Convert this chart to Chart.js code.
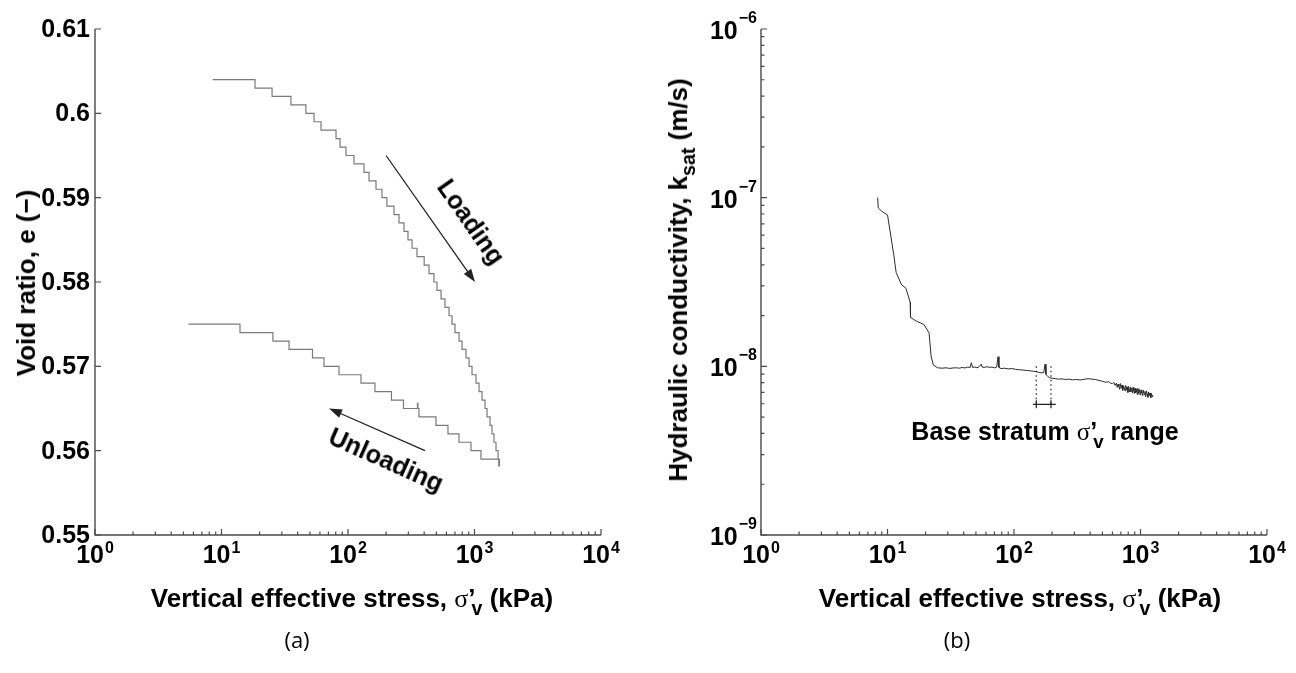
<!DOCTYPE html>
<html>
<head>
<meta charset="utf-8">
<script src="https://cdn.jsdelivr.net/npm/chart.js@4.4.1/dist/chart.umd.min.js"></script>
<style>
  html, body { margin: 0; padding: 0; background: #fff; }
  #wrap { position: relative; width: 1296px; height: 673px; overflow: hidden; }
  canvas { position: absolute; top: 0; }
  .t { position: absolute; font-family: "Liberation Sans", Arial, sans-serif; font-weight: bold; color: #000; white-space: nowrap; line-height: 1; }
  .t sub { font-size: 0.75em; vertical-align: -0.4em; line-height: 0; }
  .sg { font-family: "Liberation Serif", serif; font-weight: normal; }
  .cap { position: absolute; font-family: "Open Sans", sans-serif; font-size: 22px; line-height: 1; transform: translate(-50%, -50%); }
</style>
</head>
<body>
<div id="wrap">
  <canvas id="c1" width="640" height="673" style="left:0"></canvas>
  <canvas id="c2" width="656" height="673" style="left:640px"></canvas>

  <div class="t" style="font-size:26px;left:352px;top:585px;transform:translateX(-50%)">Vertical effective stress, <span class="sg">σ</span>’<sub style="margin-left:-4px">v</sub> (kPa)</div>
  <div class="t" style="font-size:26px;left:1020px;top:585px;transform:translateX(-50%)">Vertical effective stress, <span class="sg">σ</span>’<sub style="margin-left:-4px">v</sub> (kPa)</div>
  <div class="t" style="font-size:26px;left:26px;top:283px;transform:translate(-50%,-50%) rotate(-90deg)">Void ratio, e (−)</div>
  <div class="t" style="font-size:26px;left:678px;top:280px;transform:translate(-50%,-50%) rotate(-90deg)">Hydraulic conductivity, k<sub>sat</sub> (m/s)</div>
  <div class="t" style="font-size:25px;left:471px;top:222px;transform:translate(-50%,-50%) rotate(55deg)">Loading</div>
  <div class="t" style="font-size:25px;left:386px;top:460px;transform:translate(-50%,-50%) rotate(24deg)">Unloading</div>
  <div class="t" style="font-size:25px;left:1045px;top:419px;transform:translateX(-50%)">Base stratum <span class="sg">σ</span>’<sub style="margin-left:-4px">v</sub> range</div>
  <div class="cap" style="left:297px;top:639px">(a)</div>
  <div class="cap" style="left:957px;top:639px">(b)</div>
</div>

<script>
// (a) void ratio vs vertical effective stress
const loadStress = [8.5, 18.4, 25.1, 35.4, 46.5, 53.9, 61.2, 80.4, 86.5, 96.4, 111.5, 133.8, 146.6, 166.5, 185.6,
  203, 231, 253, 277, 298, 321, 351, 400, 437, 478, 505, 544, 584, 629, 664, 701, 755, 797, 857, 906, 956,
  1028, 1086, 1147, 1211, 1256, 1327, 1375, 1426, 1479, 1535, 1555, 1575];
const loadVoid = [0.604, 0.603, 0.602, 0.601, 0.600, 0.599, 0.598, 0.597, 0.596, 0.595, 0.594, 0.593, 0.592, 0.591, 0.590,
  0.589, 0.588, 0.587, 0.586, 0.585, 0.584, 0.583, 0.582, 0.581, 0.580, 0.579, 0.578, 0.577, 0.576, 0.575, 0.574, 0.573, 0.572, 0.571, 0.570, 0.569,
  0.568, 0.567, 0.566, 0.565, 0.564, 0.563, 0.562, 0.561, 0.560, 0.559, 0.5582, 0.559];

const unloadStress = [5.47, 14.0, 25.5, 34.2, 52.4, 64.6, 84.9, 126.7, 163.3, 220.6, 274.5, 354, 357, 364, 496, 617, 754, 938, 1125, 1543];
const unloadVoid = [0.575, 0.574, 0.573, 0.572, 0.571, 0.570, 0.569, 0.568, 0.567, 0.566, 0.565, 0.5656, 0.565, 0.564, 0.563, 0.562, 0.561, 0.560, 0.559, 0.559];

// arrows [stress, void ratio] from -> to
const loadArrow = [[200, 0.595], [1009, 0.580]];
const unloadArrow = [[406, 0.5600], [70.8, 0.5650]];

// (b) hydraulic conductivity vs vertical effective stress
const kStress = [8.36, 8.45, 9.0, 10.0, 10.6, 11.2, 11.7, 12.9, 14.0, 15.1, 15.2, 17.0, 19.4, 21.3, 21.8, 22.1, 23.0, 24.9,
  27, 29, 31, 33, 35, 37, 39, 41, 43, 45, 46, 47, 49, 51, 53, 55, 56, 58, 61, 64, 67, 70, 73, 74.8, 76, 79,
  84, 90, 96, 103, 110, 118, 126, 135, 143, 150, 158, 166, 172, 176, 179, 185, 192, 200, 212, 225, 240, 255,
  270, 290, 313, 335, 360, 385, 410, 440, 470, 500, 530, 560, 580,
  600, 615, 630, 645, 655, 665, 675, 685, 695, 705, 715, 725, 735, 745, 755, 765, 775, 785, 795, 805, 815, 825,
  835, 845, 855, 865, 875, 885, 895, 905, 915, 925, 935, 945, 955, 965, 980, 995, 1010, 1025, 1040, 1055, 1070,
  1085, 1100, 1115, 1130, 1145, 1160, 1175, 1190, 1205, 1220, 1235, 1250];
const kSat = [1.0e-7, 8.7e-8, 8.3e-8, 7.9e-8, 6.0e-8, 4.6e-8, 3.6e-8, 3.05e-8, 2.9e-8, 2.4e-8, 1.95e-8, 1.85e-8, 1.77e-8, 1.58e-8, 1.3e-8, 1.15e-8, 1.02e-8, 9.8e-9,
  9.75e-9, 9.8e-9, 9.72e-9, 9.78e-9, 9.8e-9, 9.75e-9, 9.85e-9, 9.78e-9, 9.9e-9, 9.85e-9, 1.05e-8, 9.85e-9, 9.9e-9, 9.8e-9, 9.95e-9, 1.03e-8, 9.9e-9, 9.85e-9, 9.95e-9, 9.85e-9, 9.9e-9, 9.8e-9, 9.9e-9, 1.14e-8, 9.85e-9, 9.7e-9,
  9.75e-9, 9.65e-9, 9.7e-9, 9.6e-9, 9.55e-9, 9.5e-9, 9.45e-9, 9.4e-9, 9.35e-9, 9.3e-9, 9.2e-9, 9.15e-9, 9.2e-9, 1.03e-8, 8.95e-9, 8.7e-9, 8.55e-9, 8.5e-9, 8.45e-9, 8.4e-9, 8.42e-9, 8.35e-9,
  8.4e-9, 8.32e-9, 8.35e-9, 8.3e-9, 8.38e-9, 8.45e-9, 8.4e-9, 8.35e-9, 8.25e-9, 8.15e-9, 8.05e-9, 8.1e-9, 7.95e-9,
  7.9e-9, 8.05e-9, 7.7e-9, 7.95e-9, 7.5e-9, 7.85e-9, 7.6e-9, 7.3e-9, 7.9e-9, 7.4e-9, 7.75e-9, 7.2e-9, 7.65e-9, 7.5e-9, 7.15e-9, 7.7e-9, 7.25e-9, 7.55e-9, 7.0e-9, 7.6e-9, 7.3e-9, 7.05e-9,
  7.55e-9, 7.1e-9, 7.45e-9, 6.95e-9, 7.5e-9, 7.2e-9, 6.9e-9, 7.4e-9, 6.95e-9, 7.35e-9, 7.05e-9, 6.8e-9, 7.4e-9, 6.9e-9, 7.3e-9, 6.75e-9, 7.25e-9, 6.95e-9, 6.7e-9, 7.2e-9, 6.8e-9,
  7.1e-9, 6.6e-9, 7.15e-9, 6.85e-9, 6.55e-9, 7.05e-9, 6.7e-9, 6.95e-9, 6.5e-9, 6.9e-9, 6.6e-9, 6.75e-9];

// base stratum range marker
const baseRange = [150, 196];
const baseBarSpan = [141, 214];
const baseTopK = 1.0e-8;
const baseBarK = 5.95e-9;

// ticks
const stressTicks = [1, 10, 100, 1000, 10000];
const stressTickExp = ["0", "1", "2", "3", "4"];
const voidTicks = [0.55, 0.56, 0.57, 0.58, 0.59, 0.60, 0.61];
const voidTickLabels = ["0.55", "0.56", "0.57", "0.58", "0.59", "0.6", "0.61"];
const kTicks = [1e-9, 1e-8, 1e-7, 1e-6];
const kTickExp = ["−9", "−8", "−7", "−6"];

const BIG = 'bold 25px "Liberation Sans", Arial, sans-serif';
const SMALL = 'bold 16px "Liberation Sans", Arial, sans-serif';
const AXIS = "#4a4a4a";

function minorLog(lo, hi) {
  const out = [];
  for (let d = lo; d < hi; d *= 10) for (let m = 2; m <= 9; m++) out.push(d * m);
  return out;
}

function drawFrame(ctx, a) {
  ctx.strokeStyle = AXIS;
  ctx.lineWidth = 1.4;
  ctx.beginPath();
  ctx.moveTo(a.left, a.top);
  ctx.lineTo(a.left, a.bottom);
  ctx.lineTo(a.right, a.bottom);
  ctx.stroke();
}

function drawStressAxis(ctx, xs, a) {
  ctx.strokeStyle = AXIS;
  ctx.lineWidth = 1.2;
  ctx.beginPath();
  stressTicks.forEach(v => { const x = xs.getPixelForValue(v); ctx.moveTo(x, a.bottom); ctx.lineTo(x, a.bottom - 6); });
  minorLog(1, 10000).forEach(v => { const x = xs.getPixelForValue(v); ctx.moveTo(x, a.bottom); ctx.lineTo(x, a.bottom - 3.5); });
  ctx.stroke();
  ctx.fillStyle = "#000";
  ctx.textBaseline = "alphabetic";
  ctx.textAlign = "left";
  stressTicks.forEach((v, i) => {
    const x = xs.getPixelForValue(v);
    ctx.font = BIG; const w1 = ctx.measureText("10").width;
    ctx.font = SMALL; const w2 = ctx.measureText(stressTickExp[i]).width;
    const x0 = x - (w1 + w2 + 1) / 2;
    ctx.font = BIG; ctx.fillText("10", x0, a.bottom + 28);
    ctx.font = SMALL; ctx.fillText(stressTickExp[i], x0 + w1 + 1, a.bottom + 18);
  });
}

function drawArrow(ctx, xs, ys, pts) {
  const x1 = xs.getPixelForValue(pts[0][0]), y1 = ys.getPixelForValue(pts[0][1]);
  const x2 = xs.getPixelForValue(pts[1][0]), y2 = ys.getPixelForValue(pts[1][1]);
  const ang = Math.atan2(y2 - y1, x2 - x1);
  ctx.strokeStyle = "#222";
  ctx.fillStyle = "#222";
  ctx.lineWidth = 1.3;
  ctx.beginPath();
  ctx.moveTo(x1, y1);
  ctx.lineTo(x2 - 10 * Math.cos(ang), y2 - 10 * Math.sin(ang));
  ctx.stroke();
  ctx.beginPath();
  ctx.moveTo(x2, y2);
  ctx.lineTo(x2 - 13 * Math.cos(ang) + 4.5 * Math.sin(ang), y2 - 13 * Math.sin(ang) - 4.5 * Math.cos(ang));
  ctx.lineTo(x2 - 13 * Math.cos(ang) - 4.5 * Math.sin(ang), y2 - 13 * Math.sin(ang) + 4.5 * Math.cos(ang));
  ctx.closePath();
  ctx.fill();
}

const voidDecor = {
  id: "voidDecor",
  afterDraw(chart) {
    const ctx = chart.ctx, a = chart.chartArea, xs = chart.scales.x, ys = chart.scales.y;
    ctx.save();
    drawFrame(ctx, a);
    drawStressAxis(ctx, xs, a);
    ctx.strokeStyle = AXIS;
    ctx.lineWidth = 1.2;
    ctx.beginPath();
    voidTicks.forEach(v => { const y = ys.getPixelForValue(v); ctx.moveTo(a.left, y); ctx.lineTo(a.left + 6, y); });
    ctx.stroke();
    ctx.fillStyle = "#000";
    ctx.font = BIG;
    ctx.textAlign = "right";
    ctx.textBaseline = "middle";
    voidTicks.forEach((v, i) => ctx.fillText(voidTickLabels[i], a.left - 5, ys.getPixelForValue(v) + 1));
    drawArrow(ctx, xs, ys, loadArrow);
    drawArrow(ctx, xs, ys, unloadArrow);
    ctx.restore();
  }
};

const kDecor = {
  id: "kDecor",
  afterDraw(chart) {
    const ctx = chart.ctx, a = chart.chartArea, xs = chart.scales.x, ys = chart.scales.y;
    ctx.save();
    drawFrame(ctx, a);
    drawStressAxis(ctx, xs, a);
    ctx.strokeStyle = AXIS;
    ctx.lineWidth = 1.2;
    ctx.beginPath();
    kTicks.forEach(v => { const y = ys.getPixelForValue(v); ctx.moveTo(a.left, y); ctx.lineTo(a.left + 6, y); });
    minorLog(1e-9, 1e-6).forEach(v => { const y = ys.getPixelForValue(v); ctx.moveTo(a.left, y); ctx.lineTo(a.left + 3.5, y); });
    ctx.stroke();
    ctx.fillStyle = "#000";
    ctx.textAlign = "right";
    ctx.textBaseline = "alphabetic";
    kTicks.forEach((v, i) => {
      const y = ys.getPixelForValue(v);
      ctx.font = SMALL; const w2 = ctx.measureText(kTickExp[i]).width;
      ctx.fillText(kTickExp[i], a.left - 4, y - 6);
      ctx.font = BIG; ctx.fillText("10", a.left - 5 - w2, y + 10);
    });
    // base stratum range
    const yTop = ys.getPixelForValue(baseTopK), yBar = ys.getPixelForValue(baseBarK);
    ctx.strokeStyle = "#222";
    ctx.lineWidth = 1.2;
    ctx.setLineDash([1.5, 3]);
    ctx.beginPath();
    baseRange.forEach(v => { const x = xs.getPixelForValue(v); ctx.moveTo(x, yTop); ctx.lineTo(x, yBar); });
    ctx.stroke();
    ctx.setLineDash([]);
    ctx.beginPath();
    ctx.moveTo(xs.getPixelForValue(baseBarSpan[0]), yBar);
    ctx.lineTo(xs.getPixelForValue(baseBarSpan[1]), yBar);
    baseRange.forEach(v => { const x = xs.getPixelForValue(v); ctx.moveTo(x, yBar - 4); ctx.lineTo(x, yBar + 4); });
    ctx.stroke();
    ctx.restore();
  }
};

const common = {
  responsive: false,
  animation: false,
  events: [],
  plugins: { legend: { display: false }, tooltip: { enabled: false } }
};

new Chart(document.getElementById("c1"), {
  type: "line",
  data: {
    datasets: [
      { data: loadStress.map((x, i) => ({ x, y: loadVoid[i] })), stepped: true, borderColor: "#7a7a7a", borderWidth: 1.2, pointRadius: 0 },
      { data: unloadStress.map((x, i) => ({ x, y: unloadVoid[i] })), stepped: true, borderColor: "#7a7a7a", borderWidth: 1.2, pointRadius: 0 }
    ]
  },
  options: {
    ...common,
    layout: { padding: { left: 95, top: 29, right: 39, bottom: 138 } },
    scales: {
      x: { type: "logarithmic", min: 1, max: 10000, display: false },
      y: { type: "linear", min: 0.55, max: 0.61, display: false }
    }
  },
  plugins: [voidDecor]
});

new Chart(document.getElementById("c2"), {
  type: "line",
  data: {
    datasets: [
      { data: kStress.map((x, i) => ({ x, y: kSat[i] })), borderColor: "#2a2a2a", borderWidth: 1, pointRadius: 0, tension: 0 }
    ]
  },
  options: {
    ...common,
    layout: { padding: { left: 121, top: 29, right: 29, bottom: 138 } },
    scales: {
      x: { type: "logarithmic", min: 1, max: 10000, display: false },
      y: { type: "logarithmic", min: 1e-9, max: 1e-6, display: false }
    }
  },
  plugins: [kDecor]
});
</script>
</body>
</html>
